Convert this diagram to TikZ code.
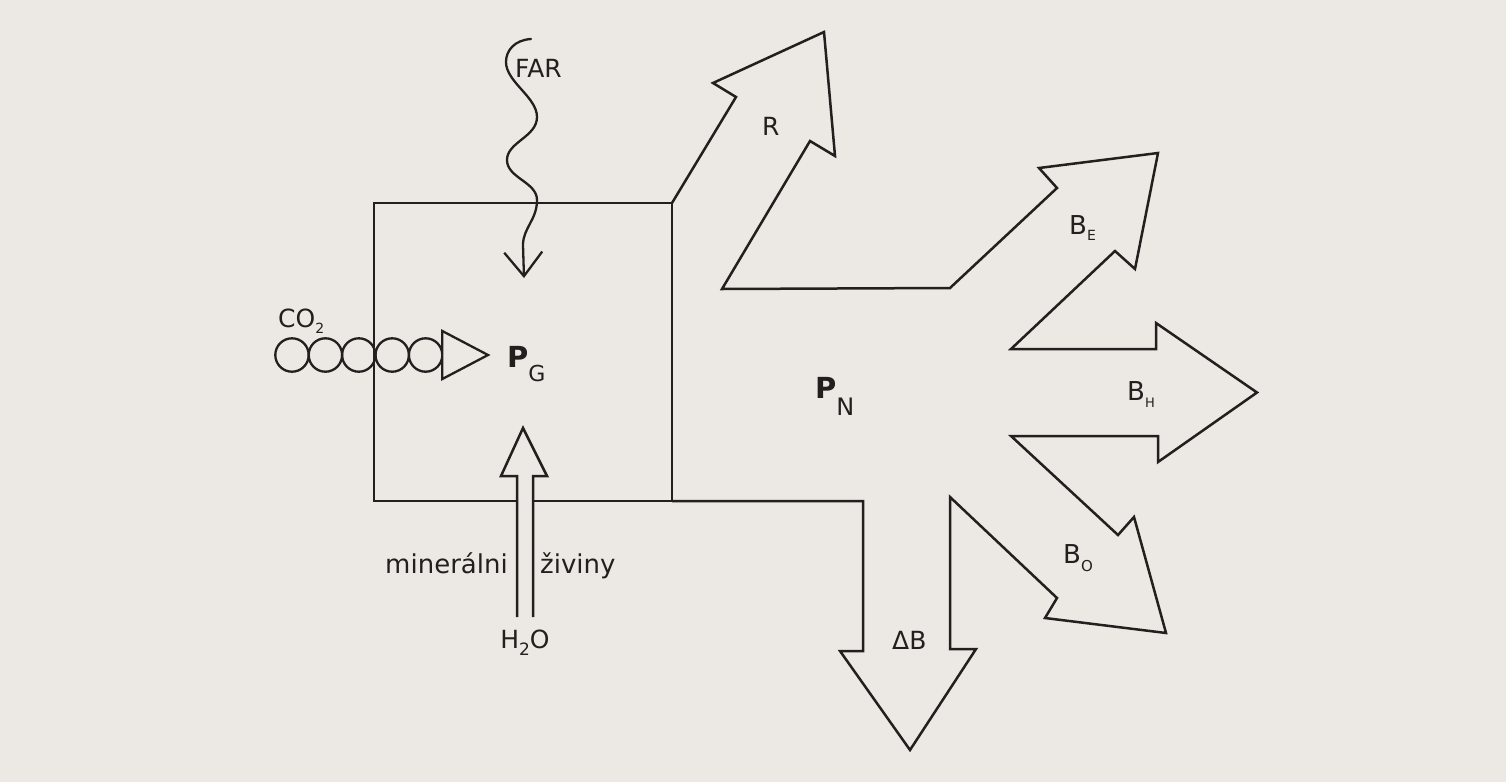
\documentclass[tikz,border=0pt]{standalone}
\usepackage{fontspec}
\setmainfont{DejaVu Sans}
\usetikzlibrary{positioning,arrows.meta,calc}

\definecolor{paper}{RGB}{236,233,228}
\definecolor{ink}{RGB}{34,32,31}
% lowered index: size, drop, text
\newcommand{\lowidx}[3]{\raisebox{-#2pt}{\fontsize{#1}{#1}\selectfont\mdseries #3}}

\begin{document}
\begin{tikzpicture}[x=1pt,y=-1pt,
  lbl/.style={font=\fontsize{25}{30}\selectfont, text=ink, inner sep=0pt},
  bigp/.style={font=\fontsize{29}{34}\selectfont\bfseries, text=ink, inner sep=0pt},
  outline/.style={draw=ink, line width=2.5pt, line join=miter},
  flowarrow/.style={outline, fill=paper}]
  \fill[paper] (0,0) rectangle (1506,782);
  \useasboundingbox (0,0) rectangle (1506,782);

  % plant box
  \coordinate (tl) at (374,203);
  \coordinate (tr) at (672,203);
  \coordinate (br) at (672,501);
  \coordinate (bl) at (374,501);
  \draw[outline] (tr) -- (tl) -- (bl) -- (br) -- cycle;

  % outflows of net production
  \draw[outline] (tr) -- (736,97) -- (713,83) -- (824,32) -- (835,156) -- (810,141)
    -- (722,289) -- (950,288) -- (1057,188) -- (1039,168) -- (1158,153) -- (1135,269)
    -- (1115,251) -- (1011,349) -- (1156,349) -- (1156,323) -- (1257,392.5) -- (1158,462)
    -- (1158,436) -- (1011,436) -- (1118,535) -- (1134,517) -- (1166,633) -- (1045,618)
    -- (1057,598) -- (950,497) -- (950,649) -- (976,649) -- (910,750) -- (840,651)
    -- (863,651) -- (863,501) -- (br);

  % light
  \coordinate (wavetop) at (531,39);
  \coordinate (waveend) at (524,278);
  \draw[draw=ink, line width=2.3pt, line cap=round,
        -{Straight Barb[length=24pt, width=38pt, line width=2.3pt]}]
    (wavetop) .. controls (515,40) and (506,50) .. (506,62)
    .. controls (506,82) and (537,97) .. (537,117)
    .. controls (537,137) and (507,142) .. (507,160)
    .. controls (507,178) and (537,182) .. (537,200)
    .. controls (537,220) and (523,228) .. (523,245)
    -- (waveend);

  % CO2 uptake
  \foreach \cx in {292,325.4,358.8,392.2,425.6}
    \draw[draw=ink, line width=2.3pt] (\cx,355) circle (16.7);
  \draw[flowarrow, line width=2.3pt] (442.3,331) -- (488,355) -- (442.3,379) -- cycle;

  % water and nutrients
  \draw[flowarrow] (517,617) -- (517,476) -- (501,476) -- (523,428) -- (547,476)
    -- (533,476) -- (533,617);

  % labels
  \node[lbl, anchor=base west] (far) at (515,77) {FAR};
  \node[lbl, anchor=base west] (co2) at (278,327) {CO\lowidx{14}{6}{2}};
  \node[bigp, anchor=base west] (pg) at (507,367) {P\lowidx{22}{14}{G}};
  \node[bigp, anchor=base west] (pn) at (815,398) {P\lowidx{24}{17}{N}};
  \node[lbl, anchor=base west] (r) at (762,135) {R};
  \node[lbl, font=\fontsize{26}{30}\selectfont, anchor=base west] (be) at (1069,234) {B\lowidx{14}{6}{E}};
  \node[lbl, font=\fontsize{26}{30}\selectfont, anchor=base west] (bh) at (1127,400) {B\lowidx{13}{7}{H}};
  \node[lbl, font=\fontsize{26}{30}\selectfont, anchor=base west] (bo) at (1063,563) {B\lowidx{15}{8}{O}};
  \node[lbl, anchor=base west] (db) at (892,649) {ΔB};
  \node[lbl, font=\fontsize{26}{30}\selectfont, anchor=base east] (minr) at (508,573) {minerálni};
  \node[lbl, font=\fontsize{26}{30}\selectfont, anchor=base west] (ziv) at (540,573) {živiny};
  \node[lbl, anchor=base] (h2o) at (525,648) {H\lowidx{17}{7}{2}O};
\end{tikzpicture}
\end{document}
